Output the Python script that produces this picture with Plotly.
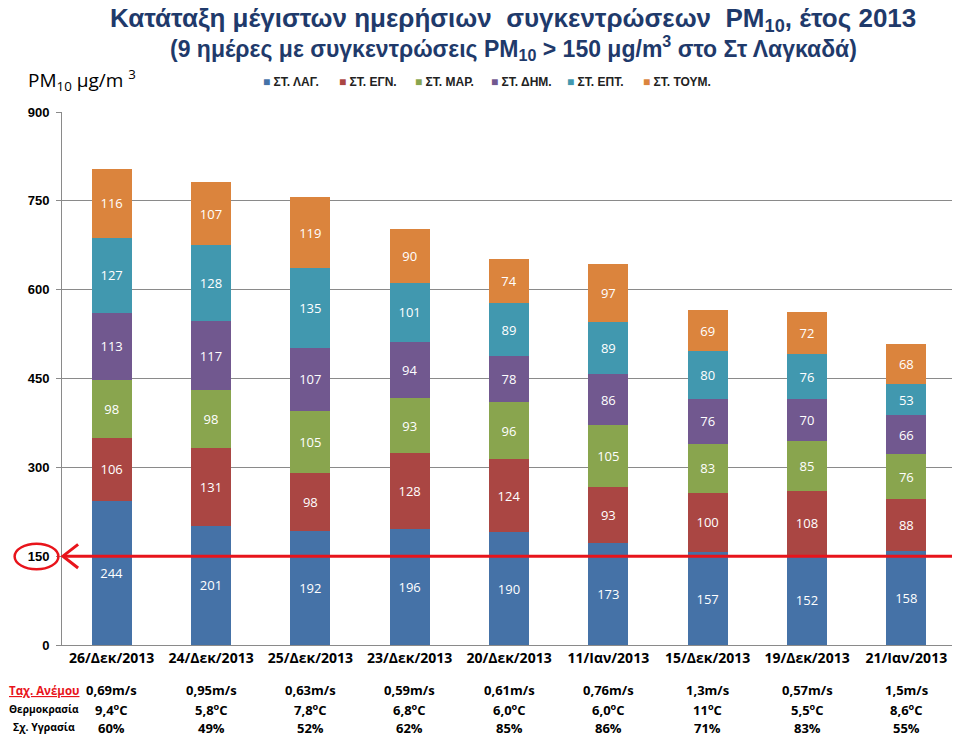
import plotly.graph_objects as go

categories = ["26/Δεκ/2013", "24/Δεκ/2013", "25/Δεκ/2013", "23/Δεκ/2013", "20/Δεκ/2013",
              "11/Ιαν/2013", "15/Δεκ/2013", "19/Δεκ/2013", "21/Ιαν/2013"]
series_names = ["ΣΤ. ΛΑΓ.", "ΣΤ. ΕΓΝ.", "ΣΤ. ΜΑΡ.", "ΣΤ. ΔΗΜ.", "ΣΤ. ΕΠΤ.", "ΣΤ. ΤΟΥΜ."]
lag = [244, 201, 192, 196, 190, 173, 157, 152, 158]
egn = [106, 131, 98, 128, 124, 93, 100, 108, 88]
mar = [98, 98, 105, 93, 96, 105, 83, 85, 76]
dim = [113, 117, 107, 94, 78, 86, 76, 70, 66]
ept = [127, 128, 135, 101, 89, 89, 80, 76, 53]
toum = [116, 107, 119, 90, 74, 97, 69, 72, 68]
colors = ["#4572A7", "#AA4643", "#89A54E", "#71588F", "#4198AF", "#DB843D"]

wind = ["0,69m/s", "0,95m/s", "0,63m/s", "0,59m/s", "0,61m/s", "0,76m/s", "1,3m/s", "0,57m/s", "1,5m/s"]
temp = ["9,4", "5,8", "7,8", "6,8", "6,0", "6,0", "11", "5,5", "8,6"]
hum = ["60%", "49%", "52%", "62%", "85%", "86%", "71%", "83%", "55%"]
y_ticks = [0, 150, 300, 450, 600, 750, 900]
limit = 150

BODY = "Open Sans, Noto Sans, DejaVu Sans"
SANS = "Liberation Sans, Arial"

fig = go.Figure()
for name, vals, col in zip(series_names, [lag, egn, mar, dim, ept, toum], colors):
    fig.add_trace(go.Bar(
        x=categories, y=vals, name=name, marker=dict(color=col, line=dict(width=0)),
        text=[str(v) for v in vals], textposition="inside", insidetextanchor="middle",
        textfont=dict(color="white", size=13, family=BODY), textangle=0,
    ))

# the page body has an 8px margin, so the figure is sized to fit the 960x737 window
fig.update_layout(
    width=952, height=729,
    barmode="stack", bargap=0.6,
    paper_bgcolor="white", plot_bgcolor="white",
    margin=dict(l=54, r=4, t=104, b=92, autoexpand=False),
    showlegend=False,
    uniformtext=dict(minsize=8, mode="show"),
)
fig.update_yaxes(range=[0, 900], tickvals=y_ticks, showgrid=True, gridcolor="#8a8a8a", gridwidth=1,
                 showline=True, linecolor="#8a8a8a", ticks="outside", ticklen=5, tickcolor="#8a8a8a",
                 ticklabelstandoff=4,
                 tickfont=dict(size=13, family=SANS, color="black", weight=700), zeroline=False)
fig.update_xaxes(showline=True, linecolor="#8a8a8a", ticks="", showgrid=False,
                 tickfont=dict(size=14, family=BODY, color="black", weight=700), tickangle=0)

# legend row (series names with coloured squares)
leg_x0, leg_step = 0.2226, 0.0850
for i, (name, col) in enumerate(zip(series_names, colors)):
    fig.add_annotation(xref="paper", yref="paper", x=leg_x0 + i * leg_step, y=1.0563, showarrow=False,
                       xanchor="left", yanchor="middle",
                       text="<span style='color:%s'>■</span> <b>%s</b>" % (col, name),
                       font=dict(size=12, family=SANS, color="#222"))

# red limit line
fig.add_shape(type="line", xref="paper", yref="y", x0=0.002, x1=0.998, y0=limit, y1=limit,
              line=dict(color="#E8141B", width=3))
fig.add_shape(type="path", xref="paper", yref="y",
              path="M 0.018,%g L 0.001,%g L 0.018,%g" % (limit + 20, limit, limit - 20),
              line=dict(color="#E8141B", width=3))
fig.add_shape(type="circle", xref="paper", yref="y", x0=-0.053, x1=-0.004, y0=limit - 22, y1=limit + 21,
              line=dict(color="#E8141B", width=2.5))

# titles
fig.add_annotation(xref="paper", yref="paper", x=0.505, y=1.173, showarrow=False,
                   xanchor="center", yanchor="middle",
                   text="<b>Κατάταξη μέγιστων ημερήσιων  συγκεντρώσεων  PM<sub>10</sub>, έτος 2013</b>",
                   font=dict(size=26, family=SANS, color="#1F3A6B"))
fig.add_annotation(xref="paper", yref="paper", x=0.505, y=1.121, showarrow=False,
                   xanchor="center", yanchor="middle",
                   text="<b>(9 ημέρες με συγκεντρώσεις PM<sub>10</sub> > 150 μg/m<sup>3</sup> στο Στ Λαγκαδά)</b>",
                   font=dict(size=23, family=SANS, color="#1F3A6B"))
fig.add_annotation(xref="paper", yref="paper", x=-0.04, y=1.06, showarrow=False,
                   xanchor="left", yanchor="middle",
                   text="PM<sub>10</sub> μg/m <sup>3</sup>",
                   font=dict(size=19, family=BODY, color="black"))

# meteo rows
for c, w, t, h in zip(categories, wind, temp, hum):
    for txt, yy in [(w, -0.085), (t + "<sup>o</sup>C", -0.121), (h, -0.155)]:
        fig.add_annotation(xref="x", yref="paper", x=c, y=yy, showarrow=False,
                           xanchor="center", yanchor="middle", text="<b>%s</b>" % txt,
                           font=dict(size=13, family=BODY, color="black"))

for txt, yy, col, sz in [("<u>Ταχ. Ανέμου</u>", -0.085, "#E8141B", 11.5),
                         ("Θερμοκρασία", -0.121, "black", 10.2),
                         ("Σχ. Υγρασία", -0.153, "black", 10.5)]:
    fig.add_annotation(xref="paper", yref="paper", x=-0.0205, y=yy, showarrow=False,
                       xanchor="center", yanchor="middle", text="<b>%s</b>" % txt,
                       font=dict(size=sz, family=BODY, color=col))

fig.write_html("out.html")
